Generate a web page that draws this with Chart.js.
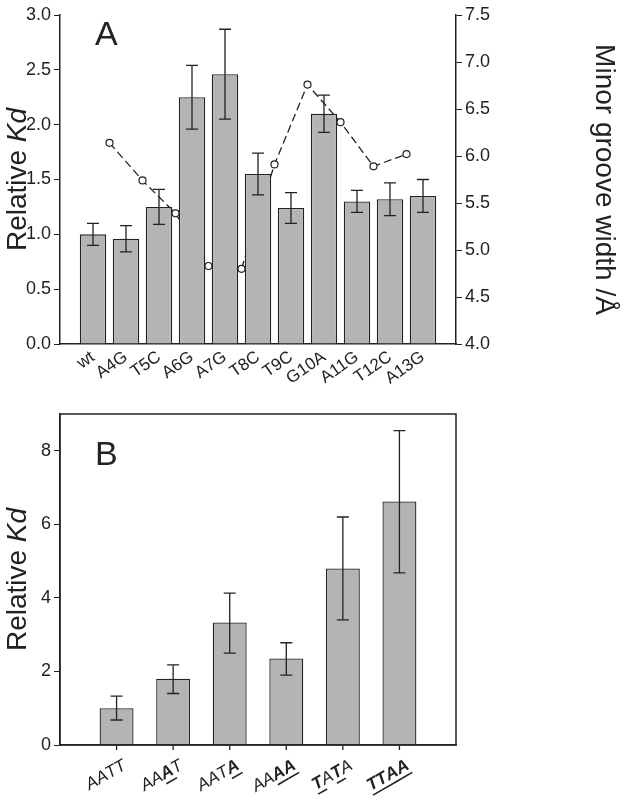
<!DOCTYPE html>
<html><head><meta charset="utf-8">
<script src="https://cdn.jsdelivr.net/npm/chart.js@4/dist/chart.umd.min.js"></script>
<style>
body{margin:0;background:#fff}
canvas{position:absolute;left:0}
</style></head>
<body>
<canvas id="chartA" width="625" height="400" style="top:0"></canvas>
<canvas id="chartB" width="625" height="400" style="top:400px"></canvas>
<script>
// panel A
const labelsA = ['wt','A4G','T5C','A6G','A7G','T8C','T9C','G10A','A11G','T12C','A13G'];
const kdA = [1.0,0.96,1.25,2.25,2.46,1.55,1.24,2.10,1.30,1.32,1.35];
const errA = [0.10,0.12,0.16,0.29,0.41,0.19,0.14,0.17,0.10,0.15,0.15];
const grooveX = [0.5,1.5,2.5,3.5,4.5,5.5,6.5,7.5,8.5,9.5];
const grooveW = [6.14,5.74,5.39,4.83,4.80,5.91,6.76,6.36,5.89,6.02];
// panel B
const labelsB = ['AATT','AAAT','AATA','AAAA','TATA','TTAA'];
const boldB = ['0000','0010','0001','0011','1010','1111'];
const kdB = [1.0,1.8,3.33,2.35,4.8,6.62];
const lowB = [0.68,1.4,2.5,1.9,3.4,4.68];
const highB = [1.33,2.18,4.13,2.78,6.2,8.55];

Chart.defaults.font.family = 'Liberation Sans, Arial, sans-serif';
Chart.defaults.color = '#222';
const F = 'Liberation Sans, Arial, sans-serif';

function errorBars(lo, hi) {
  return {
    id: 'errbars',
    afterDatasetsDraw(chart) {
      const ctx = chart.ctx, x = chart.scales.x, y = chart.scales.y;
      ctx.save(); ctx.strokeStyle = '#222'; ctx.lineWidth = 1.3;
      lo.forEach((l, i) => {
        const px = x.getPixelForValue(i), y1 = y.getPixelForValue(l), y2 = y.getPixelForValue(hi[i]);
        ctx.beginPath();
        ctx.moveTo(px, y1); ctx.lineTo(px, y2);
        ctx.moveTo(px - 6, y1); ctx.lineTo(px + 6, y1);
        ctx.moveTo(px - 6, y2); ctx.lineTo(px + 6, y2);
        ctx.stroke();
      });
      ctx.restore();
    }
  };
}

function yTitle(letter, ly) {
  return {
    id: 'ytitle',
    afterDraw(chart) {
      const ctx = chart.ctx, a = chart.chartArea;
      ctx.save();
      ctx.fillStyle = '#222';
      ctx.font = '34px ' + F;
      ctx.fillText(letter, 95, ly);
      ctx.translate(18, (a.top + a.bottom) / 2);
      ctx.rotate(-Math.PI / 2);
      ctx.textBaseline = 'middle';
      ctx.font = '28px ' + F;
      const t1 = 'Relative ', w1 = ctx.measureText(t1).width;
      ctx.font = 'italic 28px ' + F;
      const w2 = ctx.measureText('Kd').width;
      ctx.font = '28px ' + F;
      ctx.fillText(t1, -(w1 + w2) / 2, 0);
      ctx.font = 'italic 28px ' + F;
      ctx.fillText('Kd', -(w1 + w2) / 2 + w1, 0);
      ctx.restore();
    }
  };
}

const axisLine = { display: true, color: '#222', width: 1.5 };

// ---- chart A
const lowA = kdA.map((v, i) => v - errA[i]);
const highA = kdA.map((v, i) => v + errA[i]);
new Chart(document.getElementById('chartA'), {
  type: 'bar',
  data: {
    datasets: [
      { type: 'bar', data: kdA.map((v, i) => ({ x: i, y: v })), backgroundColor: '#b4b4b4',
        borderColor: '#222', borderWidth: 1.3, barPercentage: 0.8, categoryPercentage: 1, yAxisID: 'y' },
      { type: 'line', data: grooveX.map((x, i) => ({ x, y: grooveW[i] })), yAxisID: 'y2',
        borderColor: '#222', borderWidth: 1.3, borderDash: [8, 4], pointRadius: 3.5,
        pointBackgroundColor: '#fff', pointBorderColor: '#222', pointBorderWidth: 1.2, fill: false }
    ]
  },
  options: {
    responsive: false, animation: false,
    layout: { padding: { top: 15, right: 0 } },
    plugins: { legend: { display: false }, tooltip: { enabled: false } },
    scales: {
      x: {
        type: 'linear', min: -1, max: 11, offset: false,
        afterBuildTicks: s => { s.ticks = labelsA.map((_, i) => ({ value: i })); },
        ticks: { autoSkip: false, callback: v => labelsA[v], minRotation: 35, maxRotation: 35, font: { size: 17 }, color: '#222' },
        grid: { display: false, drawTicks: false }, border: axisLine,
        afterFit: s => { s.height = 56; }
      },
      y: {
        min: 0, max: 3,
        ticks: { stepSize: 0.5, callback: v => v.toFixed(1), font: { size: 18 }, color: '#222' },
        grid: { drawOnChartArea: false, tickLength: 6, color: '#222' }, border: axisLine,
        afterFit: s => { s.width = 60; }
      },
      y2: {
        position: 'right', min: 4, max: 7.5,
        ticks: { stepSize: 0.5, callback: v => v.toFixed(1), font: { size: 18 }, color: '#222' },
        grid: { drawOnChartArea: false, tickLength: 6, color: '#222' }, border: axisLine,
        title: { display: true, text: 'Minor groove width /Å', font: { size: 28 }, color: '#222', padding: 4 },
        afterFit: s => { s.width = 169; }
      }
    }
  },
  plugins: [errorBars(lowA, highA), yTitle('A', 45)]
});

// ---- chart B
const labelsBPlugin = {
  id: 'labelsB',
  afterDraw(chart) {
    const ctx = chart.ctx, x = chart.scales.x, a = chart.chartArea;
    ctx.save();
    ctx.fillStyle = '#222'; ctx.strokeStyle = '#222';
    labelsB.forEach((lab, i) => {
      const px = x.getPixelForValue(i);
      ctx.beginPath(); ctx.lineWidth = 1.3;
      ctx.moveTo(px, a.bottom); ctx.lineTo(px, a.bottom + 5); ctx.stroke();
      const fonts = [...lab].map((c, k) => (boldB[i][k] === '1' ? 'italic bold 17px ' : 'italic 17px ') + F);
      const ws = [...lab].map((c, k) => { ctx.font = fonts[k]; return ctx.measureText(c).width; });
      const w = ws.reduce((s, v) => s + v, 0);
      ctx.save();
      ctx.translate(px + 4, a.bottom + 12);
      ctx.rotate(-Math.PI * 30 / 180);
      ctx.textBaseline = 'top';
      let cx = -w;
      [...lab].forEach((c, k) => {
        ctx.font = fonts[k];
        ctx.fillText(c, cx, 0);
        if (boldB[i][k] === '1') { ctx.fillRect(cx, 17, ws[k], 1.6); }
        cx += ws[k];
      });
      ctx.restore();
    });
    ctx.restore();
  }
};

new Chart(document.getElementById('chartB'), {
  type: 'bar',
  data: {
    datasets: [
      { data: kdB.map((v, i) => ({ x: i, y: v })), backgroundColor: '#b4b4b4', borderColor: '#222',
        borderWidth: 1.3, barPercentage: 0.6, categoryPercentage: 1 }
    ]
  },
  options: {
    responsive: false, animation: false,
    layout: { padding: { top: 14, right: 169 } },
    plugins: { legend: { display: false }, tooltip: { enabled: false } },
    scales: {
      x: {
        type: 'linear', min: -1, max: 6, offset: false,
        ticks: { display: false },
        grid: { display: false, drawTicks: false }, border: axisLine,
        afterFit: s => { s.height = 55; }
      },
      y: {
        min: 0, max: 9,
        afterBuildTicks: s => { s.ticks = [0, 2, 4, 6, 8].map(v => ({ value: v })); },
        ticks: { font: { size: 18 }, color: '#222' },
        grid: { drawOnChartArea: false, tickLength: 6, color: '#222' }, border: axisLine,
        afterFit: s => { s.width = 60; }
      }
    }
  },
  plugins: [errorBars(lowB, highB), yTitle('B', 65), labelsBPlugin, {
    id: 'frame',
    afterDraw(chart) {
      const a = chart.chartArea, ctx = chart.ctx;
      ctx.save(); ctx.strokeStyle = '#222'; ctx.lineWidth = 1.5;
      ctx.strokeRect(a.left, a.top, a.right - a.left, a.bottom - a.top);
      ctx.restore();
    }
  }]
});
</script>
</body></html>
